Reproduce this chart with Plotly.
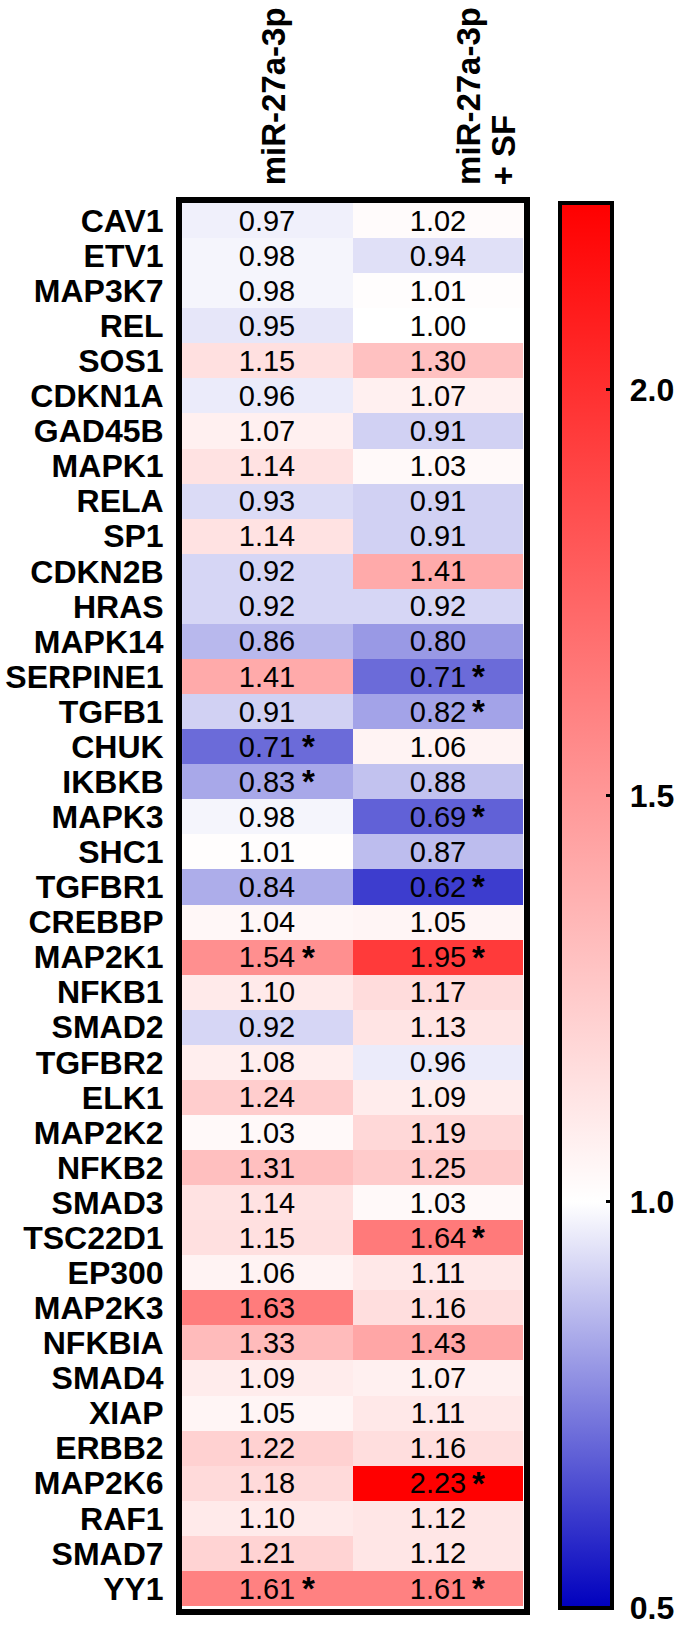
import plotly.graph_objects as go

W, H = 685, 1629

genes = ["CAV1", "ETV1", "MAP3K7", "REL", "SOS1", "CDKN1A", "GAD45B", "MAPK1", "RELA", "SP1",
         "CDKN2B", "HRAS", "MAPK14", "SERPINE1", "TGFB1", "CHUK", "IKBKB", "MAPK3", "SHC1", "TGFBR1",
         "CREBBP", "MAP2K1", "NFKB1", "SMAD2", "TGFBR2", "ELK1", "MAP2K2", "NFKB2", "SMAD3", "TSC22D1",
         "EP300", "MAP2K3", "NFKBIA", "SMAD4", "XIAP", "ERBB2", "MAP2K6", "RAF1", "SMAD7", "YY1"]

conditions = ["miR-27a-3p", "miR-27a-3p + SF"]

mir27a = [0.97, 0.98, 0.98, 0.95, 1.15, 0.96, 1.07, 1.14, 0.93, 1.14,
          0.92, 0.92, 0.86, 1.41, 0.91, 0.71, 0.83, 0.98, 1.01, 0.84,
          1.04, 1.54, 1.10, 0.92, 1.08, 1.24, 1.03, 1.31, 1.14, 1.15,
          1.06, 1.63, 1.33, 1.09, 1.05, 1.22, 1.18, 1.10, 1.21, 1.61]

mir27a_sf = [1.02, 0.94, 1.01, 1.00, 1.30, 1.07, 0.91, 1.03, 0.91, 0.91,
             1.41, 0.92, 0.80, 0.71, 0.82, 1.06, 0.88, 0.69, 0.87, 0.62,
             1.05, 1.95, 1.17, 1.13, 0.96, 1.09, 1.19, 1.25, 1.03, 1.64,
             1.11, 1.16, 1.43, 1.07, 1.11, 1.16, 2.23, 1.12, 1.12, 1.61]

sig_mir27a = ["CHUK", "IKBKB", "MAP2K1", "YY1"]
sig_mir27a_sf = ["SERPINE1", "TGFB1", "MAPK3", "TGFBR1", "MAP2K1", "TSC22D1", "MAP2K6", "YY1"]

cbar_ticks = [0.5, 1.0, 1.5, 2.0]
zmin, zmid, zmax = 0.5, 1.0, 2.23

z = [[a, b] for a, b in zip(mir27a, mir27a_sf)]
txt = [[f"{a:.2f}", f"{b:.2f}"] for a, b in zip(mir27a, mir27a_sf)]

mid_frac = (zmid - zmin) / (zmax - zmin)
colorscale = [[0.0, "rgb(0,0,190)"], [mid_frac, "rgb(255,255,255)"], [1.0, "rgb(255,0,0)"]]

BOLD = "Liberation Sans, Arial, sans-serif"
NARROW = "Liberation Sans Narrow, Arial Narrow, Liberation Sans, sans-serif"

fig = go.Figure()
fig.add_trace(go.Heatmap(
    x=conditions, y=genes, z=z, text=txt, texttemplate="%{text}",
    textfont=dict(family=NARROW, size=29, color="black"),
    colorscale=colorscale, zmin=zmin - 1e-6, zmax=zmax,
    xgap=0, ygap=0,
    colorbar=dict(
        x=569 / W, xanchor="left", xpad=0,
        y=1 - 203 / H, yanchor="top", ypad=0,
        lenmode="pixels", len=1405,
        thickness=52, outlinewidth=4, outlinecolor="black",
        tickmode="array",
        tickvals=cbar_ticks, ticktext=["\u00a0" + f"{t:.1f}" for t in cbar_ticks],
        ticks="inside", ticklen=8, tickwidth=3, tickcolor="black",
        tickfont=dict(family=BOLD, size=32, color="black", weight="bold"),
        ticklabeloverflow="allow",
    ),
    hoverinfo="skip",
))

annotations = []
for cond, sig in zip(conditions, [sig_mir27a, sig_mir27a_sf]):
    for g in sig:
        annotations.append(dict(
            x=cond, y=g, xref="x", yref="y", text="*", showarrow=False,
            xshift=41, yshift=0,
            font=dict(family=BOLD, size=33, color="black", weight="bold"),
        ))

# column headers (rotated)
hdr_font = dict(family=BOLD, size=33, color="black", weight="bold")
hdr_y = 1 - 187 / H
annotations.append(dict(x=conditions[0], y=hdr_y, xref="x", yref="paper",
                        text="miR-27a-3p", textangle=-90, showarrow=False,
                        xanchor="center", yanchor="bottom", xshift=6, font=hdr_font))
annotations.append(dict(x=conditions[1], y=hdr_y, xref="x", yref="paper",
                        text="miR-27a-3p", textangle=-90, showarrow=False,
                        xanchor="center", yanchor="bottom", xshift=30, font=hdr_font))
annotations.append(dict(x=conditions[1], y=hdr_y, xref="x", yref="paper",
                        text="+ SF", textangle=-90, showarrow=False,
                        xanchor="center", yanchor="bottom", xshift=66, font=hdr_font))

fig.update_layout(
    width=W, height=H,
    margin=dict(l=0, r=0, t=0, b=0),
    paper_bgcolor="white", plot_bgcolor="white",
    annotations=annotations,
    xaxis=dict(domain=[185 / W, 533 / W], showticklabels=False, ticks="",
               showline=True, mirror=True, linewidth=6, linecolor="black",
               showgrid=False, zeroline=False, fixedrange=True),
    yaxis=dict(domain=[20 / H, 1426 / H], autorange="reversed",
               tickmode="array", tickvals=genes, ticktext=genes,
               tickfont=dict(family=BOLD, size=32, color="black", weight="bold"),
               ticks="", ticklabelstandoff=6,
               showline=True, mirror=True, linewidth=6, linecolor="black",
               showgrid=False, zeroline=False, fixedrange=True),
)

fig.write_html("out.html", config={"displayModeBar": False},
               post_script="document.body.style.margin='0px';")
